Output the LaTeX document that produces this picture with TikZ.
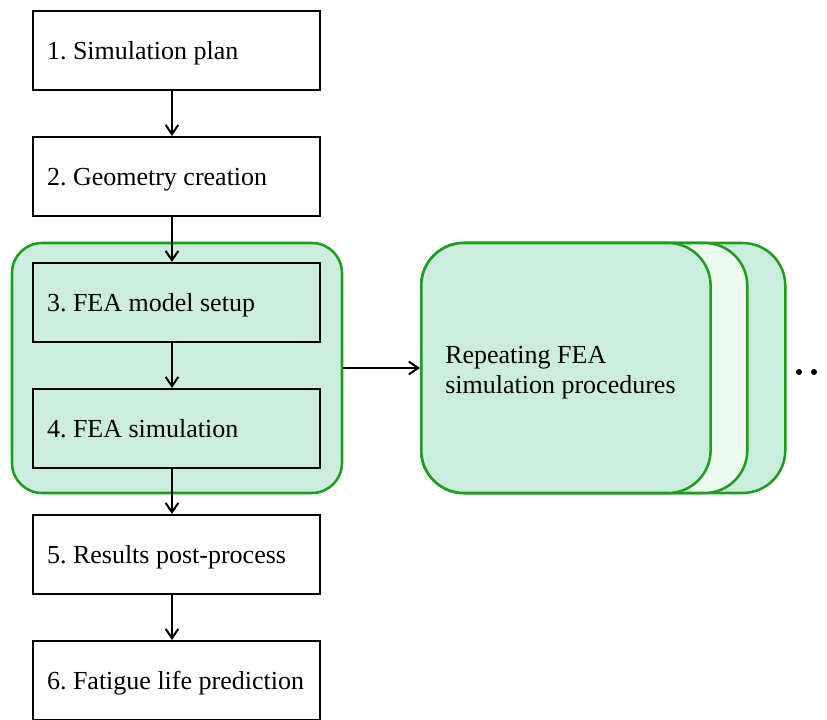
\documentclass[tikz,border=0pt]{standalone}
\usepackage{fontspec}
\setmainfont{Liberation Serif}
\usetikzlibrary{arrows.meta}
\definecolor{boxgreen}{RGB}{204,237,222}
\definecolor{palegreen}{RGB}{238,248,242}
\definecolor{edgegreen}{RGB}{30,158,30}
\tikzset{every picture/.style={line width=1.5pt}}
\frenchspacing

\begin{document}
\begin{tikzpicture}[x=0.75pt,y=0.75pt,yscale=-1,xscale=1,
    stepbox/.style={draw, fill=white, minimum height=59.25pt, text width=194.25pt, text depth=0pt, inner xsep=10.5pt, align=flush left, font=\fontsize{19.5}{22.5}\selectfont},
    groupbox/.style={draw=edgegreen, line width=1.9pt, fill=boxgreen, rounded corners=22.5pt, minimum width=247.5pt, minimum height=187.5pt},
    repbox/.style={draw=edgegreen, line width=1.9pt, fill=boxgreen, rounded corners=32pt, minimum height=187.5pt, anchor=west},
    flow/.style={-{Straight Barb[length=7pt,width=9.5pt]}}]
    \useasboundingbox (0,0) rectangle (827,720);
    %Shape: Rounded Rect [id:group]
    \node (group) [groupbox] at (177,368) {};
    %Shape: Rounded Rect [id:rep3]
    \node (rep3) [repbox, minimum width=273pt] at (420,368) {};
    %Shape: Rounded Rect [id:rep2]
    \node (rep2) [repbox, fill=palegreen, minimum width=244.5pt] at (420,368) {};
    %Shape: Rounded Rect [id:rep1]
    \node (rep1) [repbox, minimum width=217pt, text width=181pt, inner xsep=18pt, text depth=19.5pt, align=flush left, font=\fontsize{19.5}{22.5}\selectfont] at (420,368) {Repeating FEA\\simulation procedures};
    %Shape: Rectangle [id:steps]
    \node (plan) [stepbox] at (176.5,50.5) {1. Simulation plan};
    \node (geom) [stepbox] at (176.5,176.5) {2. Geometry creation};
    \node (setup) [stepbox, fill=boxgreen] at (176.5,302.5) {3. FEA model setup};
    \node (sim) [stepbox, fill=boxgreen] at (176.5,428.5) {4. FEA simulation};
    \node (post) [stepbox] at (176.5,554.5) {5. Results post-process};
    \node (life) [stepbox] at (176.5,680.5) {6. Fatigue life prediction};
    %Straight Lines [id:flow]
    \draw [flow] ([xshift=-3.4pt]plan.south) -- ([xshift=-3.4pt]geom.north);
    \draw [flow] ([xshift=-3.4pt]geom.south) -- ([xshift=-3.4pt]setup.north);
    \draw [flow] ([xshift=-3.4pt]setup.south) -- ([xshift=-3.4pt]sim.north);
    \draw [flow] ([xshift=-3.4pt]sim.south) -- ([xshift=-3.4pt]post.north);
    \draw [flow] ([xshift=-3.4pt]post.south) -- ([xshift=-3.4pt]life.north);
    \draw [flow] (group.east) -- (rep1.west);
    %Shape: Circle [id:dots]
    \node (dot1) [circle, fill, inner sep=0pt, minimum size=4.5pt] at (799,372) {};
    \node (dot2) [circle, fill, inner sep=0pt, minimum size=4.5pt] at (814,372) {};
\end{tikzpicture}
\end{document}
